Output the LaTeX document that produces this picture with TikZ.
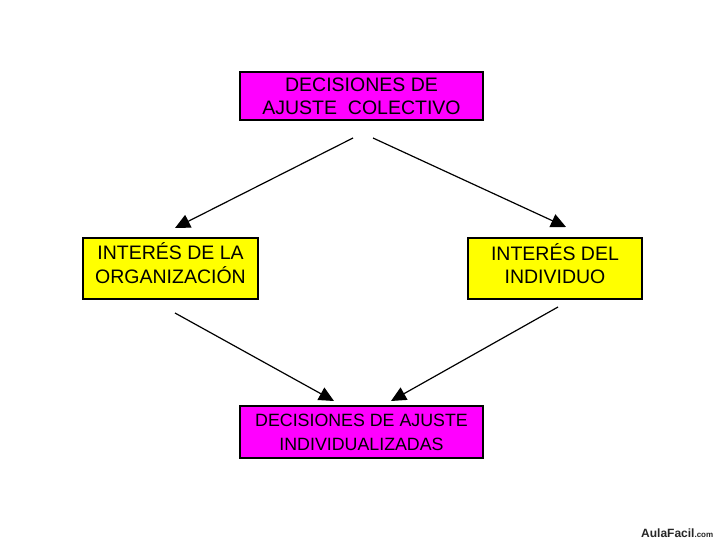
\documentclass[tikz,border=0pt]{standalone}
\usepackage{fontspec}
\setmainfont{Liberation Sans}
\usetikzlibrary{arrows.meta}
\definecolor{mag}{RGB}{255,0,255}
\definecolor{yel}{RGB}{255,255,0}
\newcommand{\liftlines}[2]{\raisebox{#1}[\height][\depth]{\begin{tabular}{@{}c@{}}#2\end{tabular}}}
\tikzset{
  box/.style={draw=black, line width=1.4pt, rectangle, align=center, inner sep=0pt,
    font=\fontsize{19.5}{23}\selectfont},
  magbox/.style={box, fill=mag},
  yelbox/.style={box, fill=yel},
  conn/.style={line width=1.2pt, -{Triangle[length=15pt,width=14pt]}}
}
\begin{document}
\begin{tikzpicture}[x=1pt,y=-1pt]
\useasboundingbox (0,0) rectangle (720,540);
\node[magbox, minimum width=243pt, minimum height=48pt] (top) at (361.5,96) {DECISIONES DE\\AJUSTE\ \ COLECTIVO};
\node[yelbox, minimum width=175pt, minimum height=61pt] (left) at (170.5,268.5) {\liftlines{2pt}{INTERÉS DE LA\\ORGANIZACIÓN}};
\node[yelbox, minimum width=174pt, minimum height=61pt] (right) at (555,268.5) {\liftlines{2pt}{INTERÉS DEL\\INDIVIDUO}};
\node[magbox, minimum width=243pt, minimum height=52pt, font=\fontsize{17.8}{24}\selectfont] (bot) at (361.5,432) {\liftlines{-2pt}{DECISIONES DE AJUSTE\\INDIVIDUALIZADAS}};
\coordinate (a1s) at (353,138); \coordinate (a1e) at (175,228);
\coordinate (a2s) at (373,138); \coordinate (a2e) at (566,227);
\coordinate (a3s) at (175,313); \coordinate (a3e) at (334,401);
\coordinate (a4s) at (558,307); \coordinate (a4e) at (391,401);
\draw[conn] (a1s) -- (a1e);
\draw[conn] (a2s) -- (a2e);
\draw[conn] (a3s) -- (a3e);
\draw[conn] (a4s) -- (a4e);
\node[anchor=base west, inner sep=0pt, text=black!85] (wm) at (641,537) {\fontsize{12}{12}\selectfont\bfseries AulaFacil\fontsize{8}{8}\selectfont.com};
\end{tikzpicture}
\end{document}
